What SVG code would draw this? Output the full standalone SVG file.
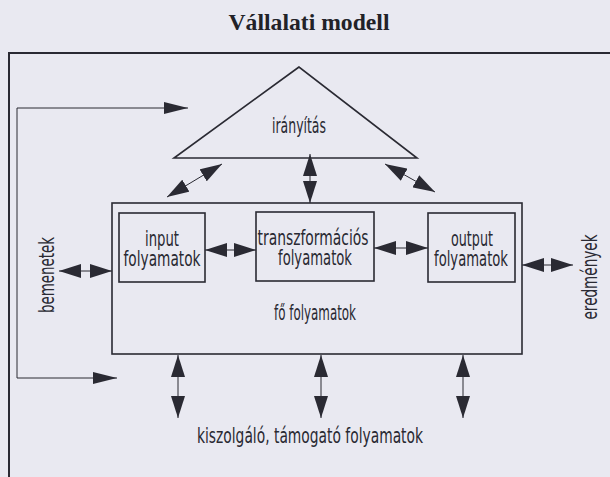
<svg xmlns="http://www.w3.org/2000/svg" width="610" height="477" viewBox="0 0 610 477">
  <style>
    .ink { fill: none; stroke: #2a2a33; stroke-width: 1.6; }
    .thin { fill: none; stroke: #2a2a33; stroke-width: 1; }
    .lbl { font-family: "DejaVu Sans", "Liberation Sans", sans-serif; font-size: 22px; fill: #2a2a33; text-anchor: middle; }
    .title { font-family: "Liberation Serif", "DejaVu Serif", serif; font-size: 23px; font-weight: bold; fill: #222228; text-anchor: middle; }
  </style>
  <defs>
    <marker id="head" viewBox="0 0 22 14" refX="22" refY="7" markerWidth="22" markerHeight="14" markerUnits="userSpaceOnUse" orient="auto-start-reverse">
      <path d="M0,0 L22,7 L0,14 Z" fill="#2a2a33"/>
    </marker>
    <marker id="headS" viewBox="0 0 24 12" refX="24" refY="6" markerWidth="24" markerHeight="12" markerUnits="userSpaceOnUse" orient="auto">
      <path d="M0,0 L24,6 L0,12 Z" fill="#2a2a33"/>
    </marker>
  </defs>

  <rect width="610" height="477" fill="#e9e9f1"/>

  <text class="title" x="309" y="30" textLength="161" lengthAdjust="spacingAndGlyphs">Vállalati modell</text>

  <!-- outer frame -->
  <path d="M610,53 H9 V477" fill="none" stroke="#2a2a33" stroke-width="2"/>

  <g id="iranyitas">
    <path class="ink" d="M299,67 L174,158 L417,158 Z"/>
    <text class="lbl" x="299" y="133" textLength="54" lengthAdjust="spacingAndGlyphs">irányítás</text>
  </g>

  <g id="fo-folyamatok">
    <rect class="ink" x="112" y="203" width="410" height="151"/>
    <text class="lbl" x="315" y="320" textLength="82" lengthAdjust="spacingAndGlyphs">fő folyamatok</text>
  </g>

  <g id="input">
    <rect class="ink" x="119" y="213" width="86" height="69"/>
    <text class="lbl" x="162" y="246" textLength="34" lengthAdjust="spacingAndGlyphs">input</text>
    <text class="lbl" x="162" y="266" textLength="77" lengthAdjust="spacingAndGlyphs">folyamatok</text>
  </g>

  <g id="transzformacios">
    <rect class="ink" x="256" y="212" width="118" height="69"/>
    <text class="lbl" x="313" y="245" textLength="111" lengthAdjust="spacingAndGlyphs">transzformációs</text>
    <text class="lbl" x="315" y="265" textLength="74" lengthAdjust="spacingAndGlyphs">folyamatok</text>
  </g>

  <g id="output">
    <rect class="ink" x="428" y="213" width="87" height="69"/>
    <text class="lbl" x="472" y="246" textLength="42" lengthAdjust="spacingAndGlyphs">output</text>
    <text class="lbl" x="471" y="266" textLength="74" lengthAdjust="spacingAndGlyphs">folyamatok</text>
  </g>

  <g id="bemenetek">
    <text class="lbl" transform="translate(54,275) rotate(-90)" x="0" y="0" textLength="76" lengthAdjust="spacingAndGlyphs">bemenetek</text>
  </g>

  <g id="eredmenyek">
    <text class="lbl" transform="translate(597,277) rotate(-90)" x="0" y="0" textLength="85" lengthAdjust="spacingAndGlyphs">eredmények</text>
  </g>

  <g id="kiszolgalo">
    <text class="lbl" x="310" y="443" textLength="226" lengthAdjust="spacingAndGlyphs">kiszolgáló, támogató folyamatok</text>
  </g>

  <g id="connectors">
    <!-- feedback loop on the left edge -->
    <path class="thin" d="M17,240 V108 H188" marker-end="url(#headS)"/>
    <path class="thin" d="M17,240 V378 H117" marker-end="url(#headS)"/>
    <!-- control <-> processes -->
    <line class="thin" x1="222" y1="164" x2="167" y2="197" marker-start="url(#head)" marker-end="url(#head)"/>
    <line class="thin" x1="310" y1="154" x2="310" y2="203" marker-start="url(#head)" marker-end="url(#head)"/>
    <line class="thin" x1="385" y1="164" x2="435" y2="192" marker-start="url(#head)" marker-end="url(#head)"/>
    <!-- inputs / outputs -->
    <line class="thin" x1="59" y1="271" x2="112" y2="271" marker-start="url(#head)" marker-end="url(#head)"/>
    <line class="thin" x1="522" y1="265" x2="573" y2="265" marker-start="url(#head)" marker-end="url(#head)"/>
    <!-- between main processes -->
    <line class="thin" x1="205" y1="250" x2="256" y2="250" marker-start="url(#head)" marker-end="url(#head)"/>
    <line class="thin" x1="374" y1="248" x2="428" y2="248" marker-start="url(#head)" marker-end="url(#head)"/>
    <!-- support processes -->
    <line class="thin" x1="178" y1="355" x2="178" y2="418" marker-start="url(#head)" marker-end="url(#head)"/>
    <line class="thin" x1="321" y1="355" x2="321" y2="418" marker-start="url(#head)" marker-end="url(#head)"/>
    <line class="thin" x1="463" y1="355" x2="463" y2="418" marker-start="url(#head)" marker-end="url(#head)"/>
  </g>
</svg>
